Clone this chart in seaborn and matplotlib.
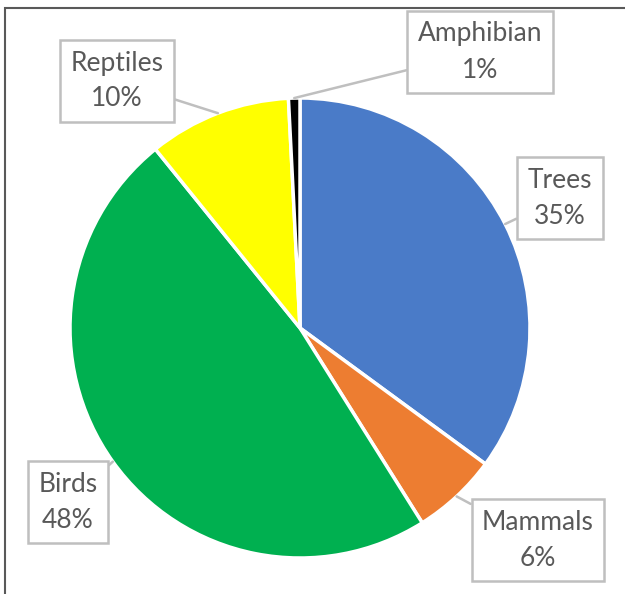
import numpy as np
import matplotlib
matplotlib.use("Agg")
import matplotlib.pyplot as plt
import matplotlib.patches as mpatches
import seaborn as sns

# data
categories = ["Trees", "Mammals", "Birds", "Reptiles", "Amphibian"]
values = [35, 6, 48, 10, 0.8]
colors = ["#4A7BC8", "#ED7D31", "#00B050", "#FFFF00", "#000000"]

# callout box centres (pixel space, y measured from the bottom)
label_pos = {
    "Trees": (560, 396),
    "Mammals": (538, 54),
    "Birds": (68, 92),
    "Reptiles": (117, 513),
    "Amphibian": (480, 542),
}

sns.set_theme(style="white")
plt.rcParams["font.family"] = ["Lato", "DejaVu Sans"]

fig = plt.figure(figsize=(6.25, 5.94), dpi=100)
ax = fig.add_axes([0, 0, 1, 1])

wedges, _ = ax.pie(values, colors=colors, startangle=90, counterclock=False,
                   center=(300, 266), radius=230, frame=True,
                   wedgeprops=dict(edgecolor="white", linewidth=2.5))
ax.set_xlim(0, 625)
ax.set_ylim(0, 594)
ax.axis("off")

total = sum(values)
for w, cat, val in zip(wedges, categories, values):
    mid = np.deg2rad((w.theta1 + w.theta2) / 2)
    cx, cy = w.center
    tip = (cx + w.r * np.cos(mid), cy + w.r * np.sin(mid))
    ax.annotate(f"{cat}\n{val / total:.0%}", xy=tip, xytext=label_pos[cat],
                ha="center", va="center", fontsize=19, color="#595959",
                linespacing=1.55,
                bbox=dict(boxstyle="square,pad=0.4", fc="white",
                          ec="#BFBFBF", lw=1.8),
                arrowprops=dict(arrowstyle="-", color="#BFBFBF", lw=1.8,
                                shrinkA=0, shrinkB=0))

# chart frame (only left and top edges fall inside the crop)
fig.patches.append(mpatches.Rectangle((5 / 625, -0.1), 1.2, 1 - 8 / 594 + 0.1,
                                      transform=fig.transFigure, fill=False,
                                      ec="#595959", lw=1.5, zorder=10))

fig.savefig("out.png", dpi=100)
